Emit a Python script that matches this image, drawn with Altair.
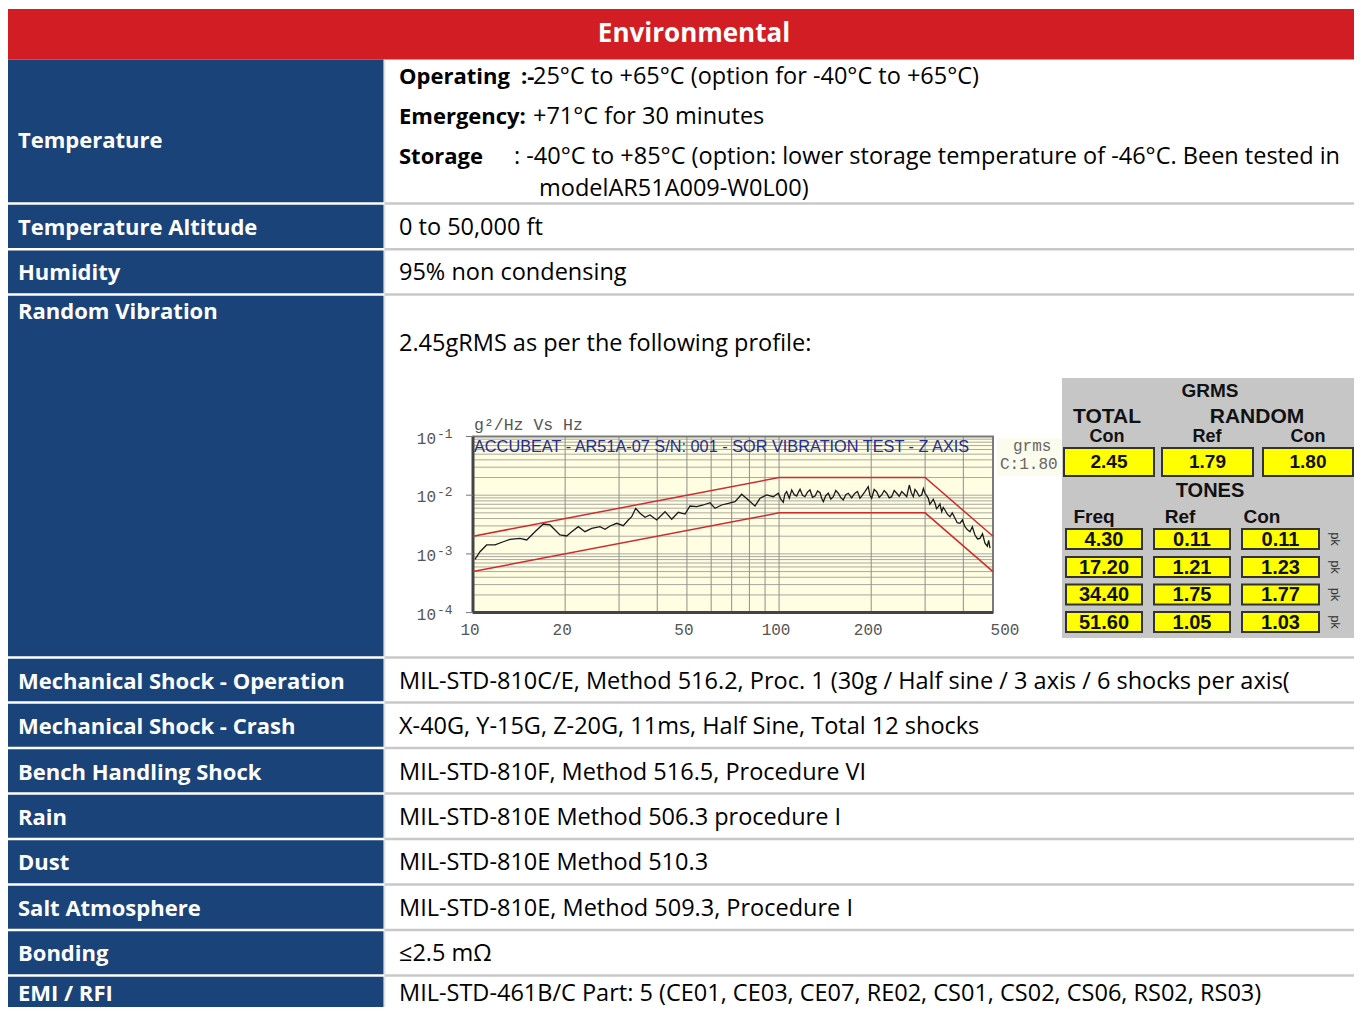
import altair as alt
import pandas as pd

# ---------------- data ----------------
header_title = "Environmental"

row_labels = [
    "Temperature", "Temperature Altitude", "Humidity", "Random Vibration",
    "Mechanical Shock - Operation", "Mechanical Shock - Crash",
    "Bench Handling Shock", "Rain", "Dust", "Salt Atmosphere", "Bonding", "EMI / RFI",
]
row_values = [
    "",
    "0 to 50,000 ft",
    "95% non condensing",
    "2.45gRMS as per the following profile:",
    "MIL-STD-810C/E, Method 516.2, Proc. 1 (30g / Half sine / 3 axis / 6 shocks per axis(",
    "X-40G, Y-15G, Z-20G, 11ms, Half Sine, Total 12 shocks",
    "MIL-STD-810F, Method 516.5, Procedure VI",
    "MIL-STD-810E Method 506.3 procedure I",
    "MIL-STD-810E Method 510.3",
    "MIL-STD-810E, Method 509.3, Procedure I",
    "\u22642.5 m\u03a9",
    "MIL-STD-461B/C Part: 5 (CE01, CE03, CE07, RE02, CS01, CS02, CS06, RS02, RS03)",
]
temp_parts = [
    "Operating", ":-", "25\u00b0C to +65\u00b0C (option for -40\u00b0C to +65\u00b0C)",
    "Emergency:", "+71\u00b0C for 30 minutes",
    "Storage", ": -40\u00b0C to +85\u00b0C (option: lower storage temperature of -46\u00b0C. Been tested in",
    "modelAR51A009-W0L00)",
]
temp_bold = [True, True, False, True, False, True, False, False]

# vibration profile: measured trace (Hz, g^2/Hz)
vib_freq = [10.15, 10.54, 11.08, 11.80, 12.56, 13.21, 14.24, 14.98, 15.94, 16.97,
            17.85, 19.24, 20.24, 21.01, 22.08, 23.22, 24.42, 25.99, 27.00, 28.04,
            29.48, 30.97, 32.17, 33.00, 34.01, 35.13, 36.47, 37.86, 39.83, 42.40,
            44.59, 46.86, 49.28, 51.17, 53.81, 56.55, 59.47, 61.75, 64.94, 68.25,
            71.78, 75.49, 79.34, 83.44, 86.64, 91.12, 95.74, 99.41, 101.3, 103.2,
            104.5, 105.9, 108.0, 110.0, 112.1, 114.2, 115.6, 117.1, 119.3, 121.5,
            123.8, 126.2, 128.6, 131.1, 133.6, 136.1, 137.8, 139.5, 142.1, 144.8,
            147.6, 150.4, 153.2, 156.1, 159.1, 162.1, 165.2, 168.3, 172.6, 177.0,
            180.4, 183.8, 187.3, 190.8, 195.6, 198.1, 200.7, 204.5, 208.4, 212.4,
            216.4, 220.5, 224.7, 229.0, 233.3, 237.8, 242.3, 246.9, 251.6, 256.4,
            261.2, 266.4, 270.4, 274.5, 278.0, 281.6, 287.0, 292.4, 296.1, 299.8,
            303.5, 307.3, 311.0, 315.3, 319.0, 323.2, 327.0, 331.4, 335.5, 339.9,
            344.0, 348.4, 355.0, 361.8, 368.0, 375.6, 382.0, 390.0, 397.0, 404.9,
            412.0, 420.5, 428.0, 436.6, 445.0, 453.4, 462.0, 470.8, 479.0, 484.0,
            488.9]
vib_psd = [8.1e-4, 1.09e-3, 1.42e-3, 1.42e-3, 1.61e-3, 1.77e-3, 1.84e-3, 1.73e-3, 2.39e-3, 3.23e-3,
           3.11e-3, 2.10e-3, 2.02e-3, 2.39e-3, 2.91e-3, 2.39e-3, 2.73e-3, 2.91e-3, 2.62e-3, 2.99e-3,
           3.32e-3, 3.02e-3, 3.78e-3, 4.30e-3, 5.98e-3, 4.92e-3, 4.20e-3, 4.60e-3, 3.78e-3, 5.24e-3,
           3.89e-3, 5.11e-3, 4.78e-3, 6.55e-3, 6.37e-3, 6.81e-3, 7.45e-3, 5.98e-3, 6.81e-3, 7.28e-3,
           7.75e-3, 1.04e-2, 8.29e-3, 6.55e-3, 8.86e-3, 1.01e-2, 9.43e-3, 1.08e-2, 8.6e-3, 7.57e-3,
           1.05e-2, 1.15e-2, 8.9e-3, 1.23e-2, 1.02e-2, 9.69e-3, 1.12e-2, 1.26e-2, 1.00e-2, 9.43e-3,
           1.13e-2, 1.23e-2, 9.2e-3, 9.69e-3, 1.18e-2, 1.10e-2, 8.9e-3, 7.75e-3, 9.8e-3, 1.08e-2,
           8.6e-3, 9.43e-3, 1.20e-2, 1.08e-2, 9.1e-3, 8.29e-3, 1.02e-2, 1.08e-2, 9.0e-3, 1.08e-2,
           1.16e-2, 8.86e-3, 1.00e-2, 1.15e-2, 1.40e-2, 1.00e-2, 8.86e-3, 1.25e-2, 1.15e-2, 9.2e-3,
           1.01e-2, 1.20e-2, 1.08e-2, 9.0e-3, 9.43e-3, 1.20e-2, 1.08e-2, 9.6e-3, 1.15e-2, 1.05e-2,
           9.43e-3, 1.49e-2, 1.10e-2, 9.43e-3, 1.25e-2, 1.15e-2, 9.6e-3, 1.01e-2, 1.30e-2, 1.08e-2,
           9.8e-3, 8.86e-3, 7.0e-3, 7.75e-3, 8.5e-3, 7.28e-3, 5.9e-3, 6.37e-3, 7.1e-3, 5.24e-3,
           6.2e-3, 5.60e-3, 4.7e-3, 4.30e-3, 5.0e-3, 4.04e-3, 3.4e-3, 3.32e-3, 3.8e-3, 2.91e-3,
           2.6e-3, 2.39e-3, 2.9e-3, 2.10e-3, 1.8e-3, 1.84e-3, 2.2e-3, 1.52e-3, 1.35e-3, 1.7e-3,
           1.25e-3]
tol_freq = [10, 100, 300, 500]
tol_upper = [2e-3, 2e-2, 2e-2, 2e-3]
tol_lower = [5e-4, 5e-3, 5e-3, 5e-4]

x_ticks = [10, 20, 50, 100, 200, 500]
x_tick_labels = ["10", "20", "50", "100", "200", "500"]
y_ticks = [1e-1, 1e-2, 1e-3, 1e-4]
y_tick_base = ["10", "10", "10", "10"]
y_tick_exp = ["-1", "-2", "-3", "-4"]
grid_freq = [20, 30, 40, 50, 60, 70, 80, 90, 100, 200, 300, 400]
grid_psd = [2e-4, 3e-4, 4e-4, 5e-4, 6e-4, 7e-4, 8e-4, 9e-4, 1e-3,
            2e-3, 3e-3, 4e-3, 5e-3, 6e-3, 7e-3, 8e-3, 9e-3, 1e-2,
            2e-2, 3e-2, 4e-2, 5e-2, 6e-2, 7e-2, 8e-2, 9e-2]
plot_title = "ACCUBEAT - AR51A-07 S/N: 001 - SOR VIBRATION TEST - Z AXIS"
y_unit_label = "g\u00b2/Hz Vs Hz"
grms_side = ["grms", "C:1.80"]

grms_heads = ["GRMS", "TOTAL", "RANDOM", "Con", "Ref", "Con", "TONES", "Freq", "Ref", "Con"]
grms_values = ["2.45", "1.79", "1.80"]
tone_freq = ["4.30", "17.20", "34.40", "51.60"]
tone_ref = ["0.11", "1.21", "1.75", "1.05"]
tone_con = ["0.11", "1.23", "1.77", "1.03"]

# ---------------- layout (image pixels) ----------------
W, H = 1346, 999
OX, OY = 8, 8
RED, BLUE, SEP = "#d21d24", "#1a4479", "#c8c8c8"
FONT = "Open Sans"
BODY_SIZE = 23.5
LABEL_SIZE = 22

row_edges = [59.5, 203.5, 249.3, 294.5, 657.5, 702.5, 748.0, 793.5, 839.0, 884.5, 930.0, 975.5, 1030]
label_y = [141, 228, 273, 312, 682, 727, 773, 818, 863, 909, 954, 993.5]
temp_x = [399, 521, 533, 399, 533, 399, 514, 539]
temp_y = [77, 77, 77, 117, 117, 157, 157, 189]

VX0, VX1 = 473, 993
VY_TOP, VY_BOT = 436.5, 612.6


def sx():
    return alt.Scale(domain=[OX, OX + W], range=[0, W], nice=False, zero=False)


def sy():
    return alt.Scale(domain=[OY, OY + H], range=[0, H], nice=False, zero=False)


def vx():
    return alt.Scale(type="log", domain=[10, 500], range=[VX0 - OX, VX1 - OX], nice=False)


def vy():
    return alt.Scale(type="log", domain=[1e-4, 1e-1], range=[VY_BOT - OY, VY_TOP - OY], nice=False)


def PX(f):
    return alt.X(f, type="quantitative", scale=sx(), axis=None)


def PY(f):
    return alt.Y(f, type="quantitative", scale=sy(), axis=None)


def LX(f):
    return alt.X(f, type="quantitative", scale=vx(), axis=None)


def LY(f):
    return alt.Y(f, type="quantitative", scale=vy(), axis=None)


def prect(df, **mk):
    return alt.Chart(df).mark_rect(**mk).encode(x=PX("x0"), x2="x1", y=PY("y0"), y2="y1")


def ptext(df, **mk):
    return alt.Chart(df).mark_text(**mk).encode(x=PX("x"), y=PY("y"), text=alt.Text("t:N"))


layers = []

# header
layers.append(prect(pd.DataFrame({"x0": [3], "x1": [1362], "y0": [9], "y1": [59.5]}), color=RED))
layers.append(ptext(pd.DataFrame({"x": [694], "y": [34], "t": [header_title]}),
                    font=FONT, fontSize=26, fontWeight="bold", color="white", align="center", baseline="middle"))

# left blue cells
n = len(row_labels)
blue = pd.DataFrame({
    "x0": [4] * n, "x1": [383.5] * n,
    "y0": [row_edges[i] + (0 if i == 0 else 1.2) for i in range(n)],
    "y1": [row_edges[i + 1] - 1.2 for i in range(n)],
})
layers.append(prect(blue, color=BLUE))

# right column separators
sep = pd.DataFrame({"x0": [385] * (n - 1), "x1": [1362] * (n - 1), "y": row_edges[1:n]})
layers.append(alt.Chart(sep).mark_rule(color=SEP, strokeWidth=2.5).encode(x=PX("x0"), x2="x1", y=PY("y")))
layers.append(alt.Chart(pd.DataFrame({"x": [384.8], "y0": [59.5], "y1": [1015]})).mark_rule(
    color="#d6d6d6", strokeWidth=1).encode(x=PX("x"), y=PY("y0"), y2="y1"))

# labels & values
layers.append(ptext(pd.DataFrame({"x": [18] * n, "y": label_y, "t": row_labels}),
                    font=FONT, fontSize=LABEL_SIZE, fontWeight="bold", color="white", align="left", baseline="middle"))
vals = pd.DataFrame({"x": [399] * n, "y": label_y, "t": row_values})
vals.loc[3, "y"] = 344
layers.append(ptext(vals, font=FONT, fontSize=BODY_SIZE, color="black", align="left", baseline="middle"))
tp = pd.DataFrame({"x": temp_x, "y": temp_y, "t": temp_parts, "b": temp_bold})
layers.append(ptext(tp[tp.b], font=FONT, fontSize=LABEL_SIZE, fontWeight="bold", color="black", align="left", baseline="middle"))
layers.append(ptext(tp[~tp.b], font=FONT, fontSize=BODY_SIZE, color="black", align="left", baseline="middle"))

# ---------------- vibration plot ----------------
layers.append(alt.Chart(pd.DataFrame({"f0": [10], "f1": [500], "p0": [1e-4], "p1": [1e-1]})).mark_rect(
    color="#fffde2").encode(x=LX("f0"), x2="f1", y=LY("p0"), y2="p1"))
layers.append(alt.Chart(pd.DataFrame({"p": grid_psd})).mark_rule(color="#a9a9a2", strokeWidth=1).encode(
    y=LY("p"), x=LX("a"), x2="b").transform_calculate(a="10", b="500"))
layers.append(alt.Chart(pd.DataFrame({"f": grid_freq})).mark_rule(color="#8f8f8a", strokeWidth=1).encode(
    x=LX("f"), y=LY("a"), y2="b").transform_calculate(a="0.0001", b="0.1"))
# frame
layers.append(alt.Chart(pd.DataFrame({"f0": [10], "f1": [500], "p0": [1e-4], "p1": [1e-1]})).mark_rect(
    fillOpacity=0, stroke="#7a7a7a", strokeWidth=2).encode(x=LX("f0"), x2="f1", y=LY("p0"), y2="p1"))
layers.append(alt.Chart(pd.DataFrame({"f": [10], "a": [1e-4], "b": [1e-1]})).mark_rule(
    color="#444444", strokeWidth=3).encode(x=LX("f"), y=LY("a"), y2="b"))
layers.append(alt.Chart(pd.DataFrame({"p": [1e-4], "a": [10], "b": [500]})).mark_rule(
    color="#444444", strokeWidth=3).encode(y=LY("p"), x=LX("a"), x2="b"))
# decade ticks
layers.append(alt.Chart(pd.DataFrame({"p": y_ticks, "x0": [466] * 4, "x1": [473] * 4})).mark_rule(
    color="#777777", strokeWidth=1).encode(y=LY("p"), x=PX("x0"), x2="x1"))

# tolerance lines
tol = pd.DataFrame({"f": tol_freq * 2, "p": tol_upper + tol_lower, "k": ["u"] * 4 + ["l"] * 4})
layers.append(alt.Chart(tol).mark_line(color="#cf2b2e", strokeWidth=1.5).encode(
    x=LX("f"), y=LY("p"), detail="k:N"))
# measured trace
layers.append(alt.Chart(pd.DataFrame({"f": vib_freq, "p": vib_psd})).mark_line(
    color="#1a1a1a", strokeWidth=1.3).encode(x=LX("f"), y=LY("p")))

# plot texts
layers.append(alt.Chart(pd.DataFrame({"f": [10], "y": [447], "t": [plot_title]})).mark_text(
    font="Liberation Sans", fontSize=16.3, color="#232d8c", align="left", baseline="middle", dx=1).encode(
    x=LX("f"), y=PY("y"), text="t:N"))
layers.append(ptext(pd.DataFrame({"x": [474], "y": [425], "t": [y_unit_label]}),
                    font="Liberation Mono", fontSize=16.5, color="#555555", align="left", baseline="middle"))
ytl = pd.DataFrame({"p": y_ticks, "x": [436] * 4, "x2": [437] * 4, "t": y_tick_base, "e": y_tick_exp})
layers.append(alt.Chart(ytl).mark_text(
    font="Liberation Mono", fontSize=16, color="#555555", align="right", baseline="middle", dy=2).encode(
    x=PX("x"), y=LY("p"), text="t:N"))
layers.append(alt.Chart(ytl).mark_text(
    font="Liberation Mono", fontSize=13, color="#555555", align="left", baseline="middle", dy=-3).encode(
    x=PX("x2"), y=LY("p"), text="e:N"))
xt = pd.DataFrame({"f": x_ticks, "y": [630] * 6, "t": x_tick_labels})
layers.append(alt.Chart(xt[xt.f < 500]).mark_text(
    font="Liberation Mono", fontSize=16, color="#555555", align="center", baseline="middle", dx=-3).encode(
    x=LX("f"), y=PY("y"), text="t:N"))
layers.append(alt.Chart(xt[xt.f == 500]).mark_text(
    font="Liberation Mono", fontSize=16, color="#555555", align="center", baseline="middle", dx=12).encode(
    x=LX("f"), y=PY("y"), text="t:N"))
layers.append(prect(pd.DataFrame({"x0": [997], "x1": [1061], "y0": [438], "y1": [476]}), color="#fbfbee"))
layers.append(ptext(pd.DataFrame({"x": [1013, 1000], "y": [446, 464], "t": grms_side}),
                    font="Liberation Mono", fontSize=16, color="#666666", align="left", baseline="middle"))

# ---------------- GRMS panel ----------------
layers.append(prect(pd.DataFrame({"x0": [1062], "x1": [1355], "y0": [378], "y1": [638]}), color="#c6c6c6"))
head_x = [1210, 1107, 1257, 1107, 1207, 1308, 1210, 1094, 1180, 1262]
head_y = [391, 417, 417, 437, 437, 437, 491, 517, 517, 517]
head_s = [19, 21, 21, 18, 18, 18, 20, 19, 19, 19]
heads = pd.DataFrame({"x": head_x, "y": head_y, "t": grms_heads, "s": head_s})
for s in sorted(set(head_s)):
    layers.append(ptext(heads[heads.s == s], font="Liberation Sans", fontSize=s, fontWeight="bold",
                        color="#111111", align="center", baseline="middle"))

top_x0 = [1064, 1162, 1263]
top_x1 = [1154, 1253, 1353]
top = pd.DataFrame({"x0": top_x0, "x1": top_x1, "y0": [448] * 3, "y1": [476] * 3, "t": grms_values})
top["x"] = (top.x0 + top.x1) / 2
top["y"] = 462
layers.append(prect(top, color="#ffff00", stroke="#333333", strokeWidth=2))
layers.append(ptext(top, font="Liberation Sans", fontSize=19, fontWeight="bold", color="#111111",
                    align="center", baseline="middle"))

col_x0 = [1066, 1154, 1242]
col_x1 = [1142, 1230, 1319]
row_top = [529, 557, 584.5, 612]
cells = []
for ci, col in enumerate([tone_freq, tone_ref, tone_con]):
    for ri, v in enumerate(col):
        cells.append({"x0": col_x0[ci], "x1": col_x1[ci], "y0": row_top[ri], "y1": row_top[ri] + 20,
                      "x": (col_x0[ci] + col_x1[ci]) / 2, "y": row_top[ri] + 10.5, "t": v})
cells = pd.DataFrame(cells)
layers.append(prect(cells, color="#ffff00", stroke="#333333", strokeWidth=2))
layers.append(ptext(cells, font="Liberation Sans", fontSize=20, fontWeight="bold", color="#111111",
                    align="center", baseline="middle"))
pk = pd.DataFrame({"x": [1335] * 4, "y": [r + 10 for r in row_top], "t": ["pk"] * 4})
layers.append(ptext(pk, font="Liberation Sans", fontSize=13, color="#333333", align="center",
                    baseline="middle", angle=90))

chart = alt.layer(*layers).resolve_scale(x="independent", y="independent").properties(
    width=W, height=H, padding=0, autosize="none").configure_view(stroke=None)

chart.save("out.html", embed_options={"renderer": "svg", "actions": False})
